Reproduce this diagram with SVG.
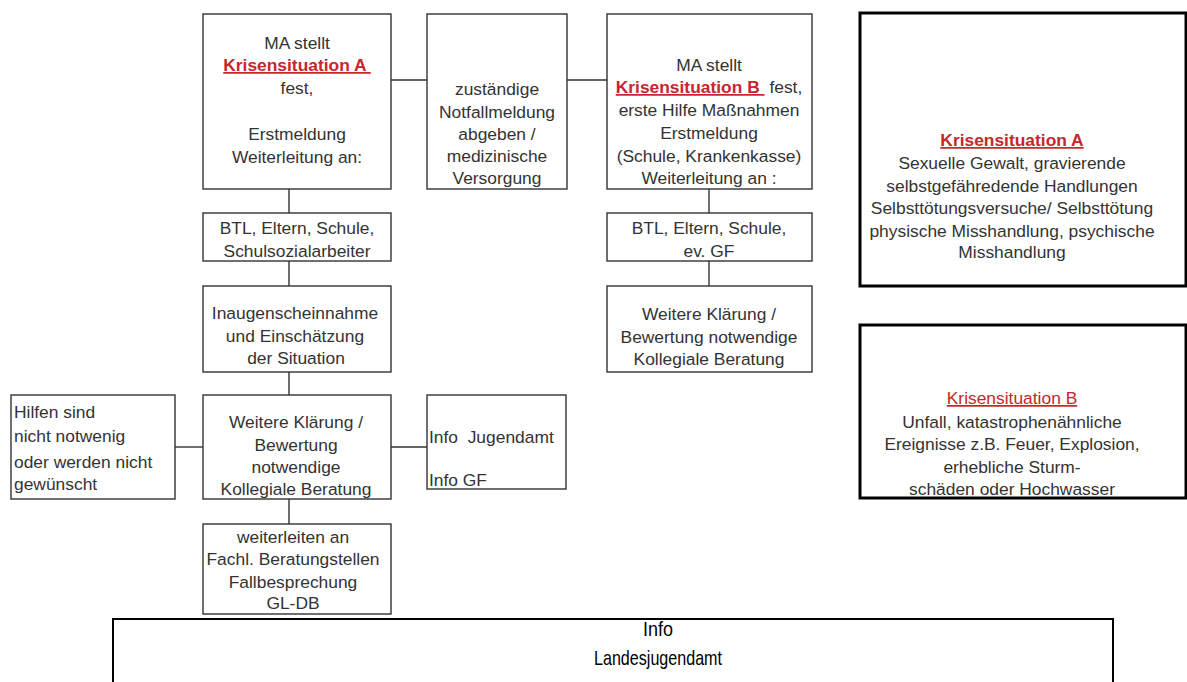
<svg xmlns="http://www.w3.org/2000/svg" width="1187" height="682" viewBox="0 0 1187 682">
  <style>
    .box { fill: #ffffff; stroke: #333333; stroke-width: 1.4; }
    .bold-box { fill: #ffffff; stroke: #000000; stroke-width: 3; }
    .wide-box { fill: #ffffff; stroke: #000000; stroke-width: 2; }
    .conn line { stroke: #333333; stroke-width: 1.4; }
    text { font-family: "Liberation Sans", Arial, sans-serif; font-size: 17.4px; fill: #333333; text-anchor: middle; }
    .left { text-anchor: start; }
    .red { fill: #c9252c; text-decoration: underline; }
    .b { font-weight: bold; }
    .big { font-size: 21px; fill: #000000; }
  </style>
  <rect width="1187" height="682" fill="#ffffff"/>

  <!-- connectors -->
  <g id="connectors" class="conn">
    <line x1="391" y1="80" x2="427" y2="80"/>
    <line x1="567" y1="80" x2="607" y2="80"/>
    <line x1="289" y1="189" x2="289" y2="213"/>
    <line x1="289" y1="261" x2="289" y2="286"/>
    <line x1="289" y1="372" x2="289" y2="395"/>
    <line x1="289" y1="499" x2="289" y2="524"/>
    <line x1="175" y1="447" x2="203" y2="447"/>
    <line x1="391" y1="447" x2="427" y2="447"/>
    <line x1="709" y1="189" x2="709" y2="213"/>
    <line x1="709" y1="261" x2="709" y2="286"/>
  </g>

  <!-- situation A: first report -->
  <g id="meldung-a">
    <rect class="box" x="203" y="14" width="188" height="175"/>
    <text x="297" y="49">MA stellt</text>
    <text x="297" y="71" style="white-space:pre"><tspan class="red b">Krisensituation A </tspan></text>
    <text x="297" y="94">fest,</text>
    <text x="297" y="140">Erstmeldung</text>
    <text x="297" y="163">Weiterleitung an:</text>
  </g>

  <g id="notfall">
    <rect class="box" x="427" y="14" width="140" height="175"/>
    <text x="497" y="95">zuständige</text>
    <text x="497" y="118">Notfallmeldung</text>
    <text x="497" y="140">abgeben /</text>
    <text x="497" y="162">medizinische</text>
    <text x="497" y="184">Versorgung</text>
  </g>

  <!-- situation B: first report -->
  <g id="meldung-b">
    <rect class="box" x="607" y="14" width="205" height="175"/>
    <text x="709" y="71">MA stellt</text>
    <text x="709" y="93" style="white-space:pre"><tspan class="red b">Krisensituation B </tspan> fest,</text>
    <text x="709" y="116">erste Hilfe Maßnahmen</text>
    <text x="709" y="139">Erstmeldung</text>
    <text x="709" y="162">(Schule, Krankenkasse)</text>
    <text x="709" y="184">Weiterleitung an :</text>
  </g>

  <g id="btl-a">
    <rect class="box" x="203" y="213" width="188" height="48"/>
    <text x="297" y="234">BTL, Eltern, Schule,</text>
    <text x="297" y="257">Schulsozialarbeiter</text>
  </g>

  <g id="btl-b">
    <rect class="box" x="607" y="213" width="205" height="48"/>
    <text x="709" y="234">BTL, Eltern, Schule,</text>
    <text x="709" y="257">ev. GF</text>
  </g>

  <g id="inaugenschein">
    <rect class="box" x="203" y="286" width="188" height="86"/>
    <text x="295" y="319">Inaugenscheinnahme</text>
    <text x="295" y="342">und Einschätzung</text>
    <text x="296" y="364">der Situation</text>
  </g>

  <g id="klaerung-b">
    <rect class="box" x="607" y="286" width="205" height="86"/>
    <text x="709" y="320">Weitere Klärung /</text>
    <text x="709" y="343">Bewertung notwendige</text>
    <text x="709" y="365">Kollegiale Beratung</text>
  </g>

  <g id="hilfen">
    <rect class="box" x="11" y="395" width="164" height="104"/>
    <text class="left" x="14" y="418">Hilfen sind</text>
    <text class="left" x="14" y="442">nicht notwenig</text>
    <text class="left" x="14" y="468">oder werden nicht</text>
    <text class="left" x="14" y="490">gewünscht</text>
  </g>

  <g id="klaerung-a">
    <rect class="box" x="203" y="395" width="188" height="104"/>
    <text x="296" y="428">Weitere Klärung /</text>
    <text x="296" y="451">Bewertung</text>
    <text x="296" y="473">notwendige</text>
    <text x="296" y="495">Kollegiale Beratung</text>
  </g>

  <g id="info-ja">
    <rect class="box" x="427" y="395" width="139" height="94"/>
    <text class="left" x="429" y="443" style="white-space:pre">Info  Jugendamt</text>
    <text class="left" x="429" y="486">Info GF</text>
  </g>

  <g id="weiterleiten">
    <rect class="box" x="203" y="524" width="188" height="90"/>
    <text x="293" y="543">weiterleiten an</text>
    <text x="293" y="565">Fachl. Beratungstellen</text>
    <text x="293" y="588">Fallbesprechung</text>
    <text x="293" y="609">GL-DB</text>
  </g>

  <!-- legend boxes -->
  <g id="legende-a">
    <rect class="bold-box" x="860" y="13" width="326" height="273"/>
    <text x="1012" y="146"><tspan class="red b">Krisensituation A</tspan></text>
    <text x="1012" y="169">Sexuelle Gewalt, gravierende</text>
    <text x="1012" y="192">selbstgefähredende Handlungen</text>
    <text x="1012" y="214">Selbsttötungsversuche/ Selbsttötung</text>
    <text x="1012" y="237">physische Misshandlung, psychische</text>
    <text x="1012" y="258">Misshandlung</text>
  </g>

  <g id="legende-b">
    <rect class="bold-box" x="860" y="325" width="326" height="173"/>
    <text x="1012" y="404"><tspan class="red">Krisensituation B</tspan></text>
    <text x="1012" y="428">Unfall, katastrophenähnliche</text>
    <text x="1012" y="450">Ereignisse z.B. Feuer, Explosion,</text>
    <text x="1012" y="473">erhebliche Sturm-</text>
    <text x="1012" y="495">schäden oder Hochwasser</text>
  </g>

  <!-- condensed heading in the wide bottom box -->
  <g id="landesjugendamt">
    <rect class="wide-box" x="113" y="619" width="1000" height="80"/>
    <text class="big" x="658" y="636" textLength="30" lengthAdjust="spacingAndGlyphs">Info</text>
    <text class="big" x="658" y="665" textLength="128" lengthAdjust="spacingAndGlyphs">Landesjugendamt</text>
  </g>
</svg>
